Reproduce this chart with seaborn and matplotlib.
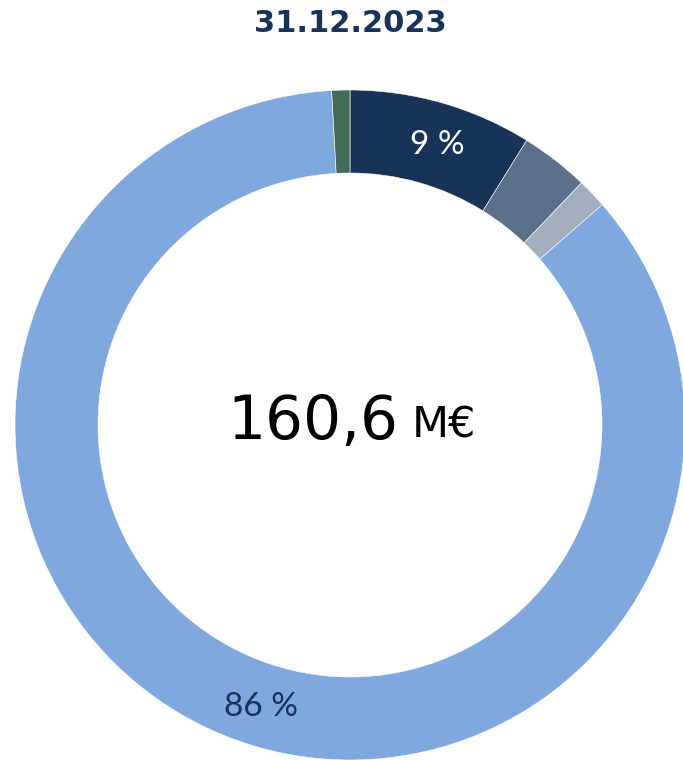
import numpy as np
import matplotlib
matplotlib.use("Agg")
import matplotlib.pyplot as plt
import seaborn as sns

sns.set_theme(style="white")
plt.rcParams['font.family'] = ['DejaVu Sans']

# montants en M€
segments = ["A", "B", "C", "D", "E"]
valeurs = [14.2, 5.3, 2.3, 137.4, 1.4]
couleurs = ["#173358", "#5c7089", "#a3aebd", "#7fa8df", "#426b58"]
total_txt = "160,6"
date_txt = "31.12.2023"

fig = plt.figure(figsize=(6.83, 7.6), dpi=100)
ax = fig.add_axes([0, 0, 1, 1])

cx, cy, r = 350, 335, 335
wedges, _ = ax.pie(valeurs, colors=couleurs, startangle=90, counterclock=False,
                   center=(cx, cy), radius=r, frame=True,
                   wedgeprops=dict(width=83, edgecolor="white", linewidth=0.4))
ax.set_xlim(0, 683)
ax.set_ylim(0, 760)
ax.set_aspect("equal")
ax.axis("off")

# étiquettes de pourcentage
pct = np.array(valeurs) / sum(valeurs) * 100
ax.text(437, 760 - 145, f"{pct[0]:.0f} %", color="white", fontsize=24,
        family="Lato", ha="center", va="center")
ax.text(261, 760 - 707, f"{pct[3]:.0f} %", color="#173358", fontsize=24,
        family="Lato", ha="center", va="center")

# total au centre
ax.text(398, 760 - 422, total_txt, fontsize=43, color="black",
        ha="right", va="center")
ax.text(412, 760 - 426, "M€", fontsize=31, color="black",
        ha="left", va="center")

fig.text(350 / 683, 1 - 24 / 760, date_txt, fontsize=22, fontweight="semibold",
         color="#173358", ha="center", va="center")

fig.savefig("out.png", dpi=100)
